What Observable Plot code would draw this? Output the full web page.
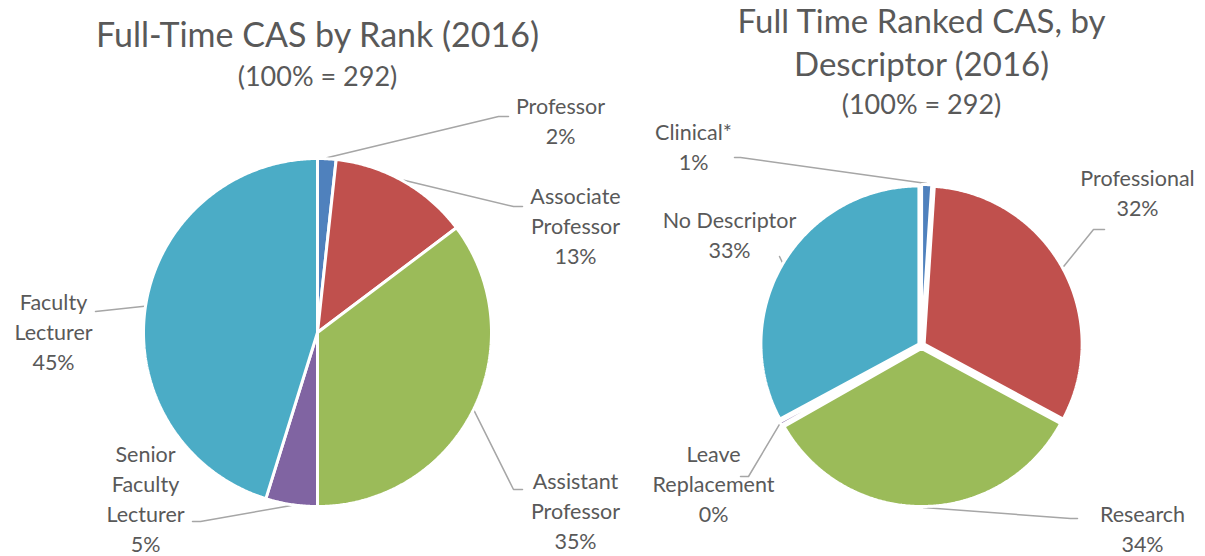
<!DOCTYPE html>
<html><head><meta charset="utf-8">
<script src="https://cdn.jsdelivr.net/npm/d3@7"></script>
<script src="https://cdn.jsdelivr.net/npm/@observablehq/plot@0.6"></script>
<style>body{margin:0;background:#fff;}</style>
</head><body><div id="chart"></div>
<script>
// ---- data ----
const rankCategories = ["Professor","Associate Professor","Assistant Professor","Senior Faculty Lecturer","Faculty Lecturer"];
const rankLabels = ["Professor","Associate\nProfessor","Assistant\nProfessor","Senior\nFaculty\nLecturer","Faculty\nLecturer"];
const rankCounts = [5, 38, 103, 14, 132];
const descCategories = ["Clinical*","Professional","Research","Leave Replacement","No Descriptor"];
const descLabels = ["Clinical*","Professional","Research","Leave\nReplacement","No Descriptor"];
const descCounts = [3, 93, 99, 1, 96];
const sliceColors = ["#4F81BD","#C0504D","#9BBB59","#8064A2","#4BACC6"];
const leftTitle = ["Full-Time CAS by Rank (2016)"];
const rightTitle = ["Full Time Ranked CAS, by", "Descriptor (2016)"];
const subtitle = "(100% = 292)";

// ---- layout ----
const LEFT = {cx: 317, cy: 332, r: 174, explode: 0, gap: 3};
const RIGHT = {cx: 921, cy: 345, r: 158, explode: 3, gap: 3};
const leftLabelPos = [[560,119],[575,224],[575,509],[145,497],[53,330]];
const rightLabelPos = [[693,145],[1137,191],[1142,527],[713,482],[729,233]];
const leftLeaderTail = [[[498,116],[508,116]], [[513,206],[522,206]], [[513,489],[522,489]], [[200,521],[192,521]], [[95,311]]];
const rightLeaderTail = [[[740,157],[734,157]], [[1093,229],[1104,229]], [[1070,518],[1077,518]], [[748,476],[740,476]], [[779,256]]];

function build(cats, counts, labels, geo, labelPos, tails) {
  const total = d3.sum(counts);
  const arcs = d3.pie().sort(null)(counts);
  const pts = [], leaders = [], texts = [];
  arcs.forEach((a, i) => {
    const mid = (a.startAngle + a.endAngle) / 2;
    const ox = geo.explode * Math.sin(mid), oy = -geo.explode * Math.cos(mid);
    const cx = geo.cx + ox, cy = geo.cy + oy;
    const n = Math.max(2, Math.ceil((a.endAngle - a.startAngle) / (Math.PI / 360)));
    pts.push({key: cats[i], x: cx, y: cy});
    for (let k = 0; k <= n; k++) {
      const t = a.startAngle + (a.endAngle - a.startAngle) * k / n;
      pts.push({key: cats[i], x: cx + geo.r * Math.sin(t), y: cy - geo.r * Math.cos(t)});
    }
    pts.push({key: cats[i], x: cx, y: cy});
    leaders.push({key: cats[i], x: cx + (geo.r + 1) * Math.sin(mid), y: cy - (geo.r + 1) * Math.cos(mid)});
    tails[i].forEach(p => leaders.push({key: cats[i], x: p[0], y: p[1]}));
    texts.push({x: labelPos[i][0], y: labelPos[i][1], text: labels[i] + "\n" + Math.round(counts[i] / total * 100) + "%"});
  });
  return {pts, leaders, texts};
}

const L = build(rankCategories, rankCounts, rankLabels, LEFT, leftLabelPos, leftLeaderTail);
const R = build(descCategories, descCounts, descLabels, RIGHT, rightLabelPos, rightLeaderTail);

const titleData = [
  {x: 317, y: 36, text: leftTitle[0], size: 34},
  {x: 317, y: 77, text: subtitle, size: 27},
  {x: 921, y: 22, text: rightTitle[0], size: 33},
  {x: 921, y: 65, text: rightTitle[1], size: 33},
  {x: 921, y: 105, text: subtitle, size: 27}
];

const textColor = "#595959";
const chart = Plot.plot({
  width: 1205, height: 556, margin: 0,
  x: {domain: [0, 1205], range: [0, 1205], axis: null},
  y: {domain: [0, 556], range: [0, 556], axis: null},
  color: {domain: [...rankCategories, ...descCategories], range: [...sliceColors, ...sliceColors]},
  style: {fontFamily: "Lato, 'Open Sans', sans-serif", background: "white"},
  marks: [
    Plot.line(L.leaders, {x: "x", y: "y", z: "key", stroke: "#A6A6A6", strokeWidth: 1.5}),
    Plot.line(R.leaders, {x: "x", y: "y", z: "key", stroke: "#A6A6A6", strokeWidth: 1.5}),
    Plot.line(L.pts, {x: "x", y: "y", z: "key", fill: "key", stroke: "white", strokeWidth: LEFT.gap, strokeLinejoin: "miter"}),
    Plot.line(R.pts, {x: "x", y: "y", z: "key", fill: "key", stroke: "white", strokeWidth: RIGHT.gap, strokeLinejoin: "miter"}),
    Plot.text([...L.texts, ...R.texts], {x: "x", y: "y", text: "text", fontSize: 21.5, lineHeight: 1.395, fill: textColor, textAnchor: "middle"}),
    Plot.text(titleData, {x: "x", y: "y", text: "text", fontSize: d => d.size, fill: textColor, textAnchor: "middle"})
  ]
});
document.getElementById("chart").appendChild(chart);
</script>
</body></html>
